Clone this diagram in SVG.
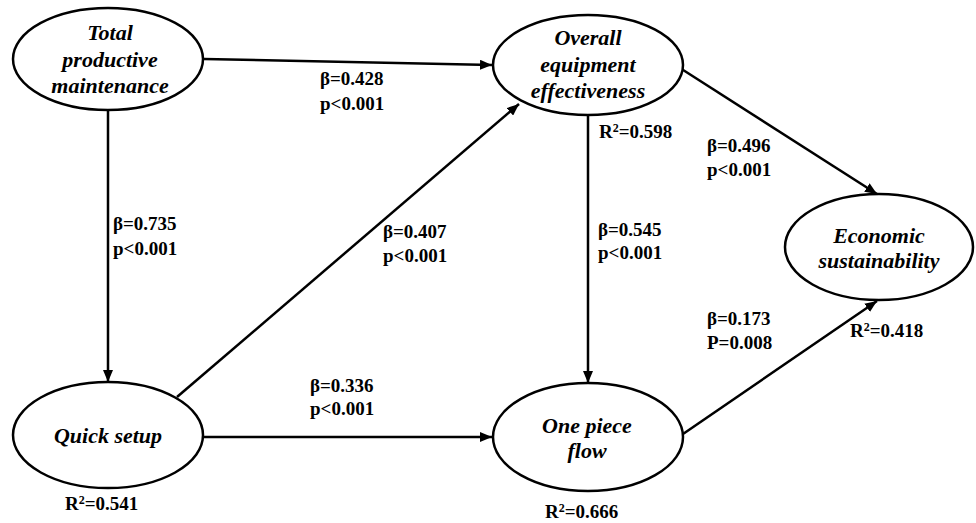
<svg xmlns="http://www.w3.org/2000/svg" width="976" height="523" viewBox="0 0 976 523">
<defs>
<style>
.node{fill:#fff;stroke:#000;stroke-width:2.5}
.nt{font-family:'Liberation Serif','Times New Roman',serif;font-weight:700;font-style:italic;font-size:22px;fill:#000;text-anchor:middle}
.lb{font-family:'Liberation Serif','Times New Roman',serif;font-weight:700;font-size:19px;fill:#000}
.sup{font-size:12px}
.edge{stroke:#000;stroke-width:2.5;fill:none;marker-end:url(#ah)}
</style>
<marker id="ah" markerUnits="userSpaceOnUse" markerWidth="14" markerHeight="10" refX="12" refY="5" orient="auto">
<path d="M0,0 L12,5 L0,10 z" fill="#000"/>
</marker>
</defs>
<rect width="976" height="523" fill="#fff"/>
<g id="connectors">
<line class="edge" x1="204" y1="59" x2="492" y2="65"/>
<line class="edge" x1="108" y1="111" x2="108" y2="382"/>
<line class="edge" x1="177" y1="397" x2="519" y2="104"/>
<line class="edge" x1="203" y1="437" x2="492" y2="437"/>
<line class="edge" x1="588" y1="115" x2="588" y2="383"/>
<line class="edge" x1="680" y1="68" x2="877" y2="194"/>
<line class="edge" x1="683" y1="434" x2="877" y2="301"/>
</g>
<g id="tpm">
<ellipse class="node" cx="108" cy="59" rx="95" ry="51"/>
<text class="nt" x="110" y="40">Total</text>
<text class="nt" x="110" y="67">productive</text>
<text class="nt" x="110" y="93">maintenance</text>
</g>
<g id="oee">
<ellipse class="node" cx="588" cy="65" rx="95" ry="50"/>
<text class="nt" x="588" y="45">Overall</text>
<text class="nt" x="588" y="72">equipment</text>
<text class="nt" x="588" y="98">effectiveness</text>
</g>
<g id="es">
<ellipse class="node" cx="879" cy="247" rx="94" ry="53"/>
<text class="nt" x="879" y="243">Economic</text>
<text class="nt" x="879" y="268">sustainability</text>
</g>
<g id="qs">
<ellipse class="node" cx="108" cy="435" rx="95" ry="53"/>
<text class="nt" x="108" y="443">Quick setup</text>
</g>
<g id="opf">
<ellipse class="node" cx="588" cy="437" rx="95" ry="54"/>
<text class="nt" x="587" y="433">One piece</text>
<text class="nt" x="587" y="458">flow</text>
</g>
<g id="labels">
<text class="lb" x="320" y="85">β=0.428</text>
<text class="lb" x="320" y="110">p&lt;0.001</text>
<text class="lb" x="113" y="230">β=0.735</text>
<text class="lb" x="113" y="255">p&lt;0.001</text>
<text class="lb" x="383" y="238">β=0.407</text>
<text class="lb" x="383" y="262">p&lt;0.001</text>
<text class="lb" x="310" y="392">β=0.336</text>
<text class="lb" x="310" y="415">p&lt;0.001</text>
<text class="lb" x="599" y="138">R<tspan class="sup" dy="-6">2</tspan><tspan dy="6">=0.598</tspan></text>
<text class="lb" x="707" y="152">β=0.496</text>
<text class="lb" x="707" y="176">p&lt;0.001</text>
<text class="lb" x="598" y="236">β=0.545</text>
<text class="lb" x="598" y="259">p&lt;0.001</text>
<text class="lb" x="707" y="325">β=0.173</text>
<text class="lb" x="707" y="349">P=0.008</text>
<text class="lb" x="850" y="337">R<tspan class="sup" dy="-6">2</tspan><tspan dy="6">=0.418</tspan></text>
<text class="lb" x="65" y="510">R<tspan class="sup" dy="-6">2</tspan><tspan dy="6">=0.541</tspan></text>
<text class="lb" x="545" y="518">R<tspan class="sup" dy="-6">2</tspan><tspan dy="6">=0.666</tspan></text>
</g>
</svg>
